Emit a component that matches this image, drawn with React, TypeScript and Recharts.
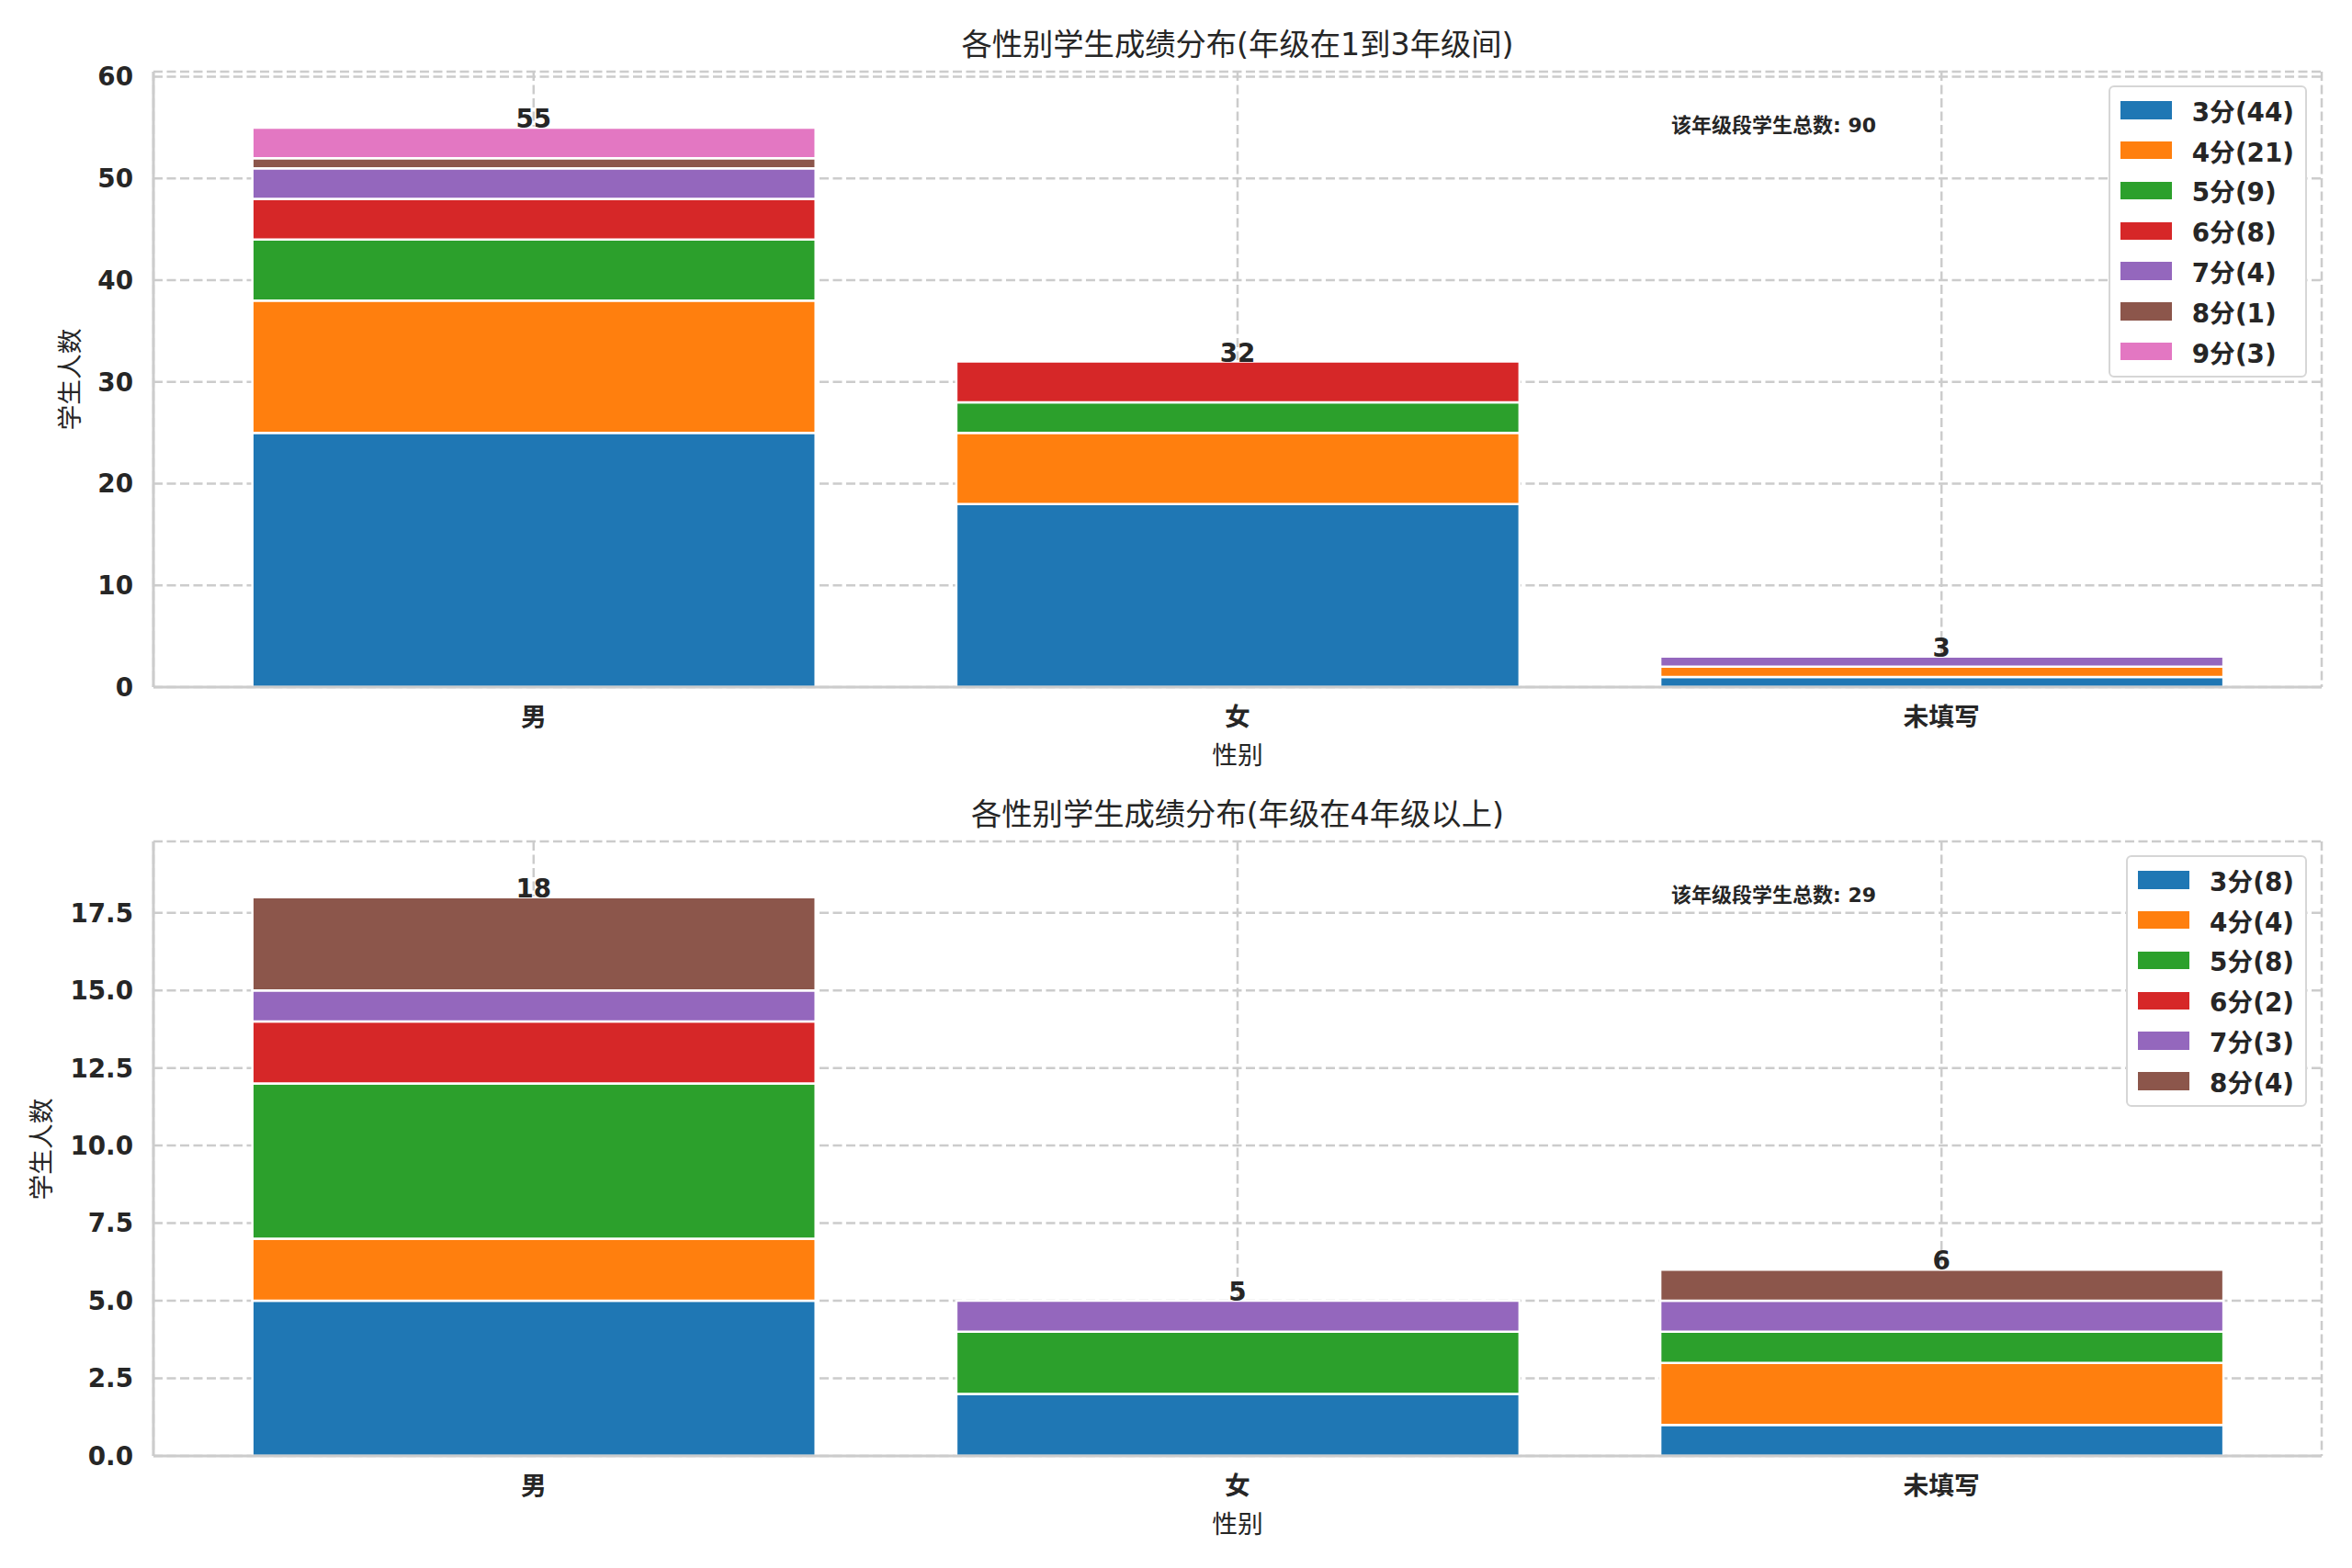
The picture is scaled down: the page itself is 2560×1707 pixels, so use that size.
import React from "react";
import {
  ComposedChart,
  Bar,
  Line,
  XAxis,
  YAxis,
  CartesianGrid,
  LabelList,
} from "recharts";

const genders = ["男", "女", "未填写"];
const colors = ["#1f77b4", "#ff7f0e", "#2ca02c", "#d62728", "#9467bd", "#8c564b", "#e377c2"];

// 年级 1-3：每个分数档在 男 / 女 / 未填写 中的人数
const lowScores = [3, 4, 5, 6, 7, 8, 9];
const lowCounts = [
  [25, 18, 1],
  [13, 7, 1],
  [6, 3, 0],
  [4, 4, 0],
  [3, 0, 1],
  [1, 0, 0],
  [3, 0, 0],
];
const lowTicks = [0, 10, 20, 30, 40, 50, 60];

// 年级 4 以上
const highScores = [3, 4, 5, 6, 7, 8];
const highCounts = [
  [5, 2, 1],
  [2, 0, 2],
  [5, 2, 1],
  [2, 0, 0],
  [1, 1, 1],
  [3, 0, 1],
];
const highTicks = [0, 2.5, 5, 7.5, 10, 12.5, 15, 17.5];

const FONT = '"DejaVu Sans", "Noto Sans CJK SC", sans-serif';
const INK = "#262626";
const GRID = "#cccccc";

function buildRows(scores: number[], counts: number[][]) {
  return genders.map((g, i) => {
    const row: Record<string, any> = { gender: g, total: 0 };
    scores.forEach((s, k) => {
      row["s" + s] = counts[k][i];
      row.total += counts[k][i];
    });
    return row;
  });
}

type PanelProps = {
  top: number;
  height: number;
  marginTop: number;
  axisHeight: number;
  title: string;
  scores: number[];
  counts: number[][];
  ticks: number[];
  yMax: number;
  decimals: number;
  yLabelX: number;
};

function Panel(p: PanelProps) {
  const rows = buildRows(p.scores, p.counts);
  const grand = rows.reduce((a, r) => a + r.total, 0);
  const plotTop = p.marginTop;
  const plotBottom = p.height - p.axisHeight;
  const text = { fontFamily: FONT, color: INK, position: "absolute" as const, whiteSpace: "nowrap" as const };

  return (
    <div style={{ position: "absolute", left: 0, top: p.top, width: 2560, height: p.height }}>
      <ComposedChart
        width={2560}
        height={p.height}
        data={rows}
        margin={{ top: p.marginTop, right: 33, bottom: 0, left: 0 }}
      >
        <CartesianGrid stroke={GRID} strokeWidth={2.5} strokeDasharray="10 4.5" />
        <XAxis
          dataKey="gender"
          height={p.axisHeight}
          padding={{ left: 30.7, right: 30.7 }}
          axisLine={{ stroke: GRID, strokeWidth: 3 }}
          tickLine={false}
          tickSize={8}
          tickMargin={14}
          tick={{ fill: INK, fontSize: 27.8, fontWeight: "bold", fontFamily: FONT }}
        />
        <XAxis
          xAxisId="frame"
          dataKey="gender"
          orientation="top"
          height={0}
          tick={false}
          tickLine={false}
          axisLine={{ stroke: GRID, strokeWidth: 3 }}
        />
        <YAxis
          type="number"
          width={167}
          domain={[0, p.yMax]}
          ticks={p.ticks}
          tickFormatter={(v: number) => v.toFixed(p.decimals)}
          axisLine={{ stroke: GRID, strokeWidth: 3 }}
          tickLine={false}
          tickSize={10}
          tickMargin={12}
          tick={{ fill: INK, fontSize: 27.8, fontWeight: "bold", fontFamily: FONT }}
        />
        <YAxis
          yAxisId="frame"
          orientation="right"
          type="number"
          width={0}
          domain={[0, p.yMax]}
          tick={false}
          tickLine={false}
          axisLine={{ stroke: GRID, strokeWidth: 3 }}
        />
        {p.scores.map((s, k) => (
          <Bar
            key={s}
            dataKey={"s" + s}
            name={s + "分"}
            stackId="a"
            fill={colors[k]}
            stroke="#ffffff"
            strokeWidth={2.5}
            barSize={613}
            isAnimationActive={false}
          />
        ))}
        <Line
          dataKey="total"
          stroke="none"
          dot={false}
          activeDot={false}
          legendType="none"
          isAnimationActive={false}
        >
          <LabelList
            dataKey="total"
            position="top"
            offset={0}
            fill={INK}
            fontSize={27.8}
            fontWeight="bold"
            fontFamily={FONT}
          />
        </Line>
      </ComposedChart>

      <div style={{ ...text, left: 167, width: 2360, top: plotTop - 46, fontSize: 33.3, lineHeight: "33px", textAlign: "center" }}>
        {p.title}
      </div>
      <div style={{ ...text, left: 167, width: 2360, top: plotBottom + 61, fontSize: 27.8, lineHeight: "28px", textAlign: "center" }}>
        性别
      </div>
      <div
        style={{
          ...text,
          left: p.yLabelX - 200,
          width: 400,
          top: (plotTop + plotBottom) / 2 - 14,
          fontSize: 27.8,
          lineHeight: "28px",
          textAlign: "center",
          transform: "rotate(-90deg)",
        }}
      >
        学生人数
      </div>
      <div style={{ ...text, left: 1819, top: plotTop + 48, fontSize: 22, lineHeight: "22px", fontWeight: "bold" }}>
        该年级段学生总数: {grand}
      </div>

      <div
        style={{
          position: "absolute",
          right: 49,
          top: plotTop + 15,
          background: "#ffffff",
          border: "2px solid #d6d6d6",
          borderRadius: 6,
          padding: "3px 12px 4px 11px",
          fontFamily: FONT,
        }}
      >
        {p.scores.map((s, k) => (
          <div key={s} style={{ height: 43.8, display: "flex", alignItems: "center" }}>
            <div style={{ width: 56, height: 19.5, background: colors[k], marginRight: 22 }} />
            <span style={{ fontSize: 27.8, fontWeight: "bold", color: INK, whiteSpace: "nowrap" }}>
              {s}分({p.counts[k].reduce((a, b) => a + b, 0)})
            </span>
          </div>
        ))}
      </div>
    </div>
  );
}

export default function App() {
  return (
    <div style={{ position: "relative", width: 2560, height: 1707, background: "#ffffff" }}>
      <style>{"body{margin:0}"}</style>
      <Panel
        top={0}
        height={853}
        marginTop={78}
        axisHeight={105}
        title="各性别学生成绩分布(年级在1到3年级间)"
        scores={lowScores}
        counts={lowCounts}
        ticks={lowTicks}
        yMax={60.5}
        decimals={0}
        yLabelX={77}
      />
      <Panel
        top={853}
        height={854}
        marginTop={63}
        axisHeight={122}
        title="各性别学生成绩分布(年级在4年级以上)"
        scores={highScores}
        counts={highCounts}
        ticks={highTicks}
        yMax={19.8}
        decimals={1}
        yLabelX={46}
      />
    </div>
  );
}
